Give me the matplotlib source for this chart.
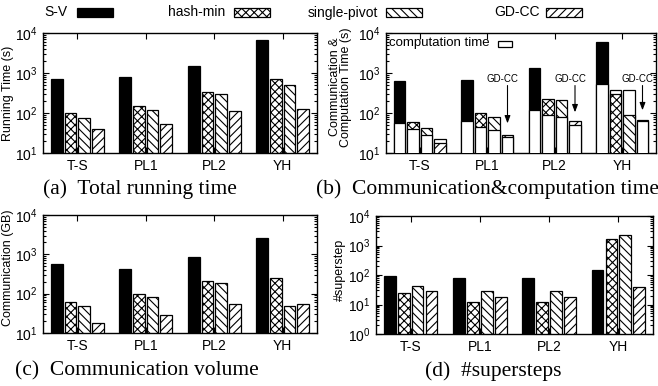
import numpy as np
import matplotlib
matplotlib.use('Agg')
import matplotlib.pyplot as plt
from matplotlib.patches import Rectangle
from matplotlib.ticker import LogLocator

plt.rcParams['font.family'] = ['Liberation Sans', 'DejaVu Sans']
plt.rcParams['hatch.linewidth'] = 0.8

datasets = ['T-S', 'PL1', 'PL2', 'YH']
methods = ['S-V', 'hash-min', 'single-pivot', 'GD-CC']
facecolors = ['black', 'white', 'white', 'white']
hatches = [None, 'xxxx', '\\\\\\\\', '////']

# (a) total running time (s)
run_sv = [711, 780, 1455, 6800]
run_hm = [98, 146, 329, 698]
run_sp = [73, 118, 293, 493]
run_gd = [39, 53, 112, 128]

# (b) communication (patterned part) and computation (white part) time (s)
comm_sv = [622, 686, 1309, 6010]
comm_hm = [58, 100, 228, 291]
comm_sp = [43, 80, 207, 91]
comm_gd = [17.4, 28, 63, 66]
comp_sv = [55, 63, 121, 537]
comp_hm = [39, 44, 88, 380]
comp_sp = [28, 37, 80, 366]
comp_gd = [23, 25.5, 49.5, 63]
gdcc_arrow_tip = [None, 55, 104, 117]

# (c) communication volume (GB)
vol_sv = [573, 420, 846, 2566]
vol_hm = [61, 99, 204, 248]
vol_sp = [48, 82, 185, 48]
vol_gd = [18.3, 28, 55, 55]

# (d) number of supersteps
ss_sv = [92, 77, 77, 148]
ss_hm = [24, 12, 12, 1620]
ss_sp = [43, 28, 28, 2270]
ss_gd = [29, 17.5, 17.5, 38]

x = np.arange(len(datasets))
offsets = [-0.3, -0.1, 0.1, 0.3]
width = 0.17

fig = plt.figure(figsize=(6.58, 3.86), dpi=100)
W, H = 658.0, 386.0
ax_a = fig.add_axes([43/W, 1-153/H, 274/W, 120/H])
ax_b = fig.add_axes([386/W, 1-153/H, 270/W, 120/H])
ax_c = fig.add_axes([43/W, 1-333/H, 274/W, 118/H])
ax_d = fig.add_axes([376/W, 1-334/H, 277/W, 118/H])


def style(ax, ylo):
    ax.set_yscale('log')
    ax.set_ylim(ylo, 1e4)
    ax.yaxis.set_major_locator(LogLocator(base=10, numticks=10))
    ax.yaxis.set_minor_locator(LogLocator(base=10, subs=np.arange(2, 10), numticks=10))
    ax.set_xlim(-0.5, 3.5)
    ax.set_xticks(x)
    ax.set_xticklabels(datasets)
    ax.tick_params(which='both', direction='in', top=True, right=True,
                   labelsize=10, width=0.8)
    ax.tick_params(which='major', length=4, pad=4)
    ax.tick_params(which='minor', length=2)
    for s in ax.spines.values():
        s.set_linewidth(1.0)


def bars(ax, series):
    for k, vals in enumerate(series):
        ax.bar(x + offsets[k], vals, width=width, color=facecolors[k],
               edgecolor='black', hatch=hatches[k], linewidth=0.9)


bars(ax_a, [run_sv, run_hm, run_sp, run_gd])
style(ax_a, 10)
ax_a.set_ylabel('Running Time (s)', fontsize=9)
ax_a.yaxis.set_label_coords(-0.105, 0.5)

# (b) overlapping bars: the taller one behind, the shorter one in front
comm = [comm_sv, comm_hm, comm_sp, comm_gd]
comp = [comp_sv, comp_hm, comp_sp, comp_gd]
for k in range(4):
    for i in range(len(datasets)):
        pz, cz = (2, 3) if comm[k][i] >= comp[k][i] else (3, 2)
        ax_b.bar(x[i] + offsets[k], comm[k][i], width=width, color=facecolors[k],
                 edgecolor='black', hatch=hatches[k], linewidth=0.9, zorder=pz)
        ax_b.bar(x[i] + offsets[k], comp[k][i], width=width, color='white',
                 edgecolor='black', linewidth=0.9, zorder=cz)
style(ax_b, 10)
ax_b.set_ylabel('Communication &\nComputation Time (s)', fontsize=9, linespacing=0.95)
ax_b.yaxis.set_label_coords(-0.125, 0.55)
for i, tip in enumerate(gdcc_arrow_tip):
    if tip is None:
        continue
    gx = x[i] + offsets[3]
    ax_b.annotate('', xy=(gx, tip), xytext=(gx, 486),
                  arrowprops=dict(arrowstyle='-|>,head_length=0.45,head_width=0.17',
                                  color='black', lw=0.8, shrinkA=0, shrinkB=0))
    ax_b.text(gx - 0.07, 720, 'GD-CC', fontsize=7, ha='center', va='center')
ax_b.text(0.011, 0.915, 'computation time', transform=ax_b.transAxes,
          fontsize=9.5, ha='left', va='center')
ax_b.add_patch(Rectangle((0.415, 0.885), 0.05, 0.045, transform=ax_b.transAxes,
                         facecolor='white', edgecolor='black', linewidth=0.9))

bars(ax_c, [vol_sv, vol_hm, vol_sp, vol_gd])
style(ax_c, 10)
ax_c.set_ylabel('Communication (GB)', fontsize=9)
ax_c.yaxis.set_label_coords(-0.105, 0.55)

bars(ax_d, [ss_sv, ss_hm, ss_sp, ss_gd])
style(ax_d, 1)
ax_d.set_ylabel('#superstep', fontsize=9)
ax_d.yaxis.set_label_coords(-0.108, 0.54)

# shared legend along the top
leg_text_right = [67, 225, 378, 540]
leg_box_left = [77, 234, 386, 546]
for k, name in enumerate(methods):
    fig.text(leg_text_right[k]/W, 1-12.5/H, name, fontsize=10, ha='right', va='center')
    fig.add_artist(Rectangle((leg_box_left[k]/W, 1-17/H), 36/W, 9/H,
                             transform=fig.transFigure, facecolor=facecolors[k],
                             edgecolor='black', hatch=hatches[k], linewidth=0.9))

cap = dict(family=['Liberation Serif', 'DejaVu Serif'], fontsize=15.5, ha='left', va='center')
fig.text(43/W, 1-189/H, '(a)  Total running time', **cap)
fig.text(316/W, 1-189/H, '(b)  Communication&computation time', **cap)
fig.text(15/W, 1-371/H, '(c)  Communication volume', **cap)
fig.text(425/W, 1-371/H, '(d)  #supersteps', **cap)

fig.savefig('out.png', dpi=100)
